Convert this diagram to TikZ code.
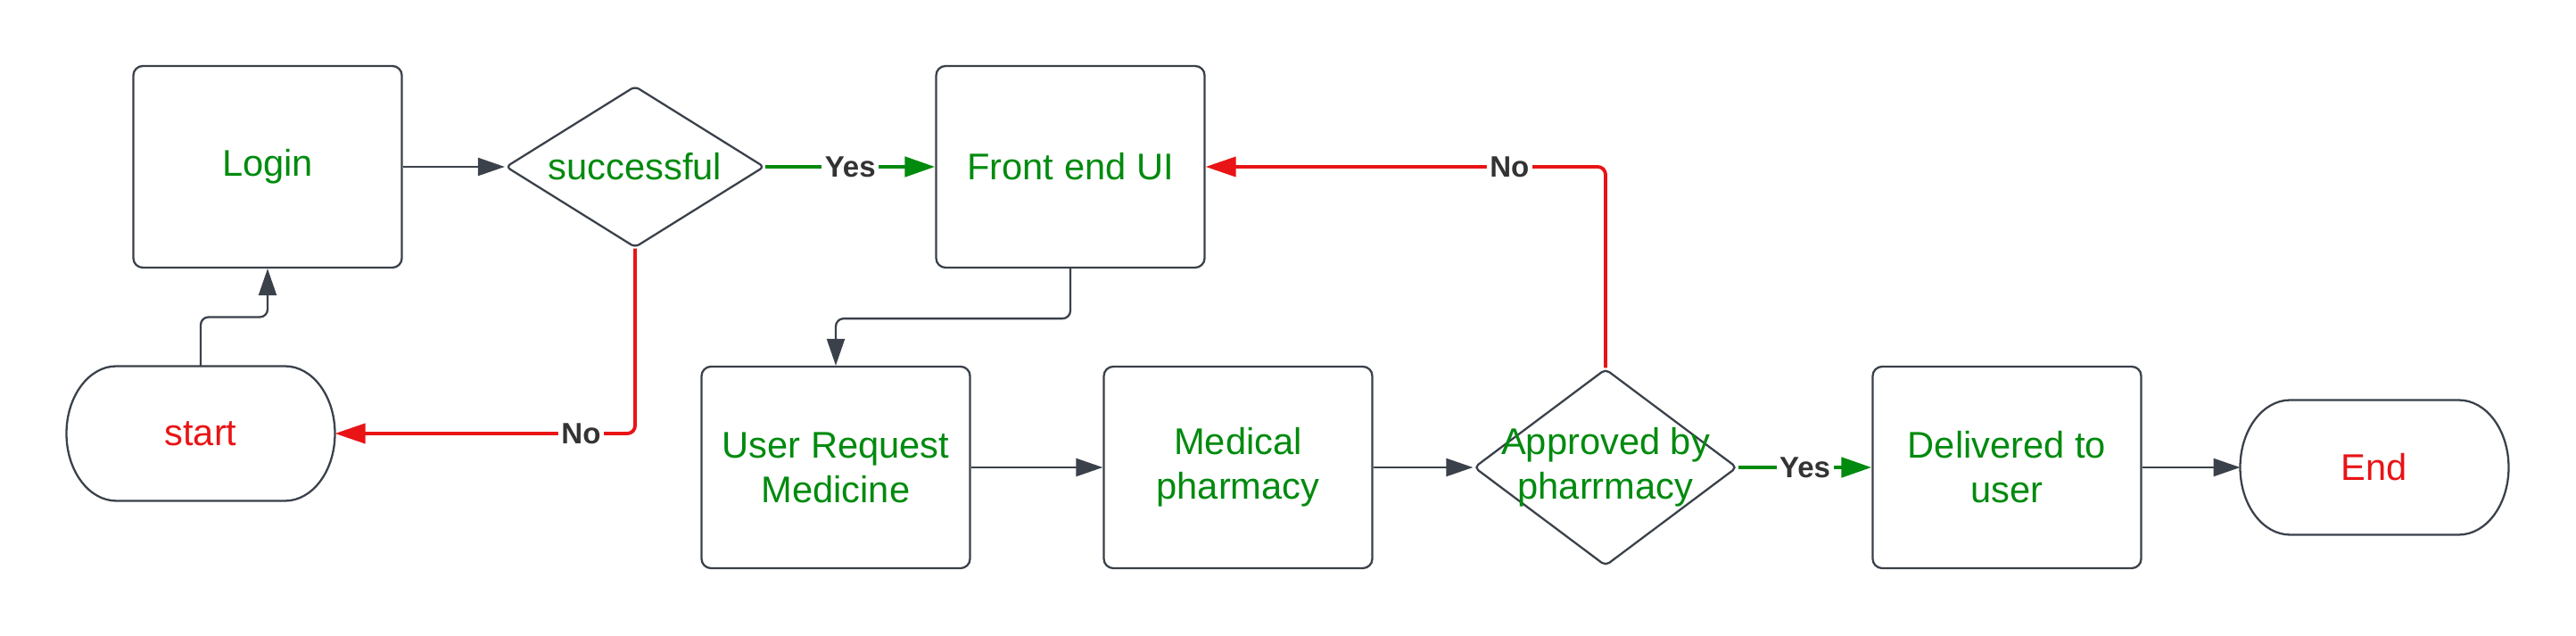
\documentclass[tikz,border=0pt]{standalone}
\usepackage{fontspec}
\setmainfont{Liberation Sans}
\usepackage{tikz}
\usepackage{xcolor}
\usetikzlibrary{positioning, shapes.geometric, arrows.meta, calc}

\definecolor{linegray}{HTML}{3A414A}
\definecolor{okgreen}{HTML}{008A0E}
\definecolor{nored}{HTML}{E81416}
\definecolor{labelgray}{HTML}{333333}

\begin{document}
\begin{tikzpicture}[
  >={Triangle[length=3mm, width=2mm]},
  every node/.style={font=\fontsize{11.85}{14.2}\selectfont},
  flowbox/.style={draw=linegray, line width=0.65pt, rounded corners=3pt,
               minimum width=3.01cm, minimum height=2.26cm, align=center,
               text=okgreen, inner sep=2pt},
  decision/.style={diamond, draw=linegray, line width=0.65pt,
               rounded corners=1.5pt, inner sep=0pt},
  terminal/.style={minimum width=3.01cm, minimum height=1.51cm,
               outer sep=0pt, text=nored},
  flow/.style={->, draw=linegray, line width=0.65pt, rounded corners=2.5pt},
  yesflow/.style={-{Triangle[length=3.4mm, width=2.2mm]}, draw=okgreen,
               line width=1.4pt},
  noflow/.style={-{Triangle[length=3.4mm, width=2.2mm]}, draw=nored,
               line width=1.1pt, rounded corners=2.5pt},
  answer/.style={font=\fontsize{9.4}{11}\selectfont\bfseries,
               text=labelgray, fill=white, inner sep=1pt}
]
\useasboundingbox (0,0) rectangle (28.88,7.13);

% ---- Top row ----
\node[flowbox] (login) at (3.00, 5.26) {Login};

\node[decision, minimum width=2.90cm, minimum height=1.81cm,
      label={[text=okgreen]center:successful}] (check) at (7.12, 5.26) {};

\node[flowbox] (frontend) at (12.00, 5.26) {Front end UI};

% ---- Bottom row ----
\node[terminal] (start) at (2.25, 2.27) {start};

\node[flowbox] (request) at (9.37, 1.89) {User Request\\Medicine};

\node[flowbox] (pharmacy) at (13.88, 1.89) {Medical\\pharmacy};

\node[decision, minimum width=2.95cm, minimum height=2.21cm,
      label={[text=okgreen, align=center]center:{Approved by\\pharrmacy}}]
  (approve) at (18.00, 1.89) {};

\node[flowbox] (deliver) at (22.50, 1.89) {Delivered to\\user};

\node[terminal] (finish) at (26.62, 1.89) {End};

% ---- Terminal outlines ----
\draw[linegray, line width=0.65pt]
  ([xshift=0.56cm]start.north west) -- ([xshift=-0.56cm]start.north east)
  arc[start angle=90, end angle=-90, x radius=0.56cm, y radius=0.755cm]
  -- ([xshift=0.56cm]start.south west)
  arc[start angle=270, end angle=90, x radius=0.56cm, y radius=0.755cm] -- cycle;
\draw[linegray, line width=0.65pt]
  ([xshift=0.56cm]finish.north west) -- ([xshift=-0.56cm]finish.north east)
  arc[start angle=90, end angle=-90, x radius=0.56cm, y radius=0.755cm]
  -- ([xshift=0.56cm]finish.south west)
  arc[start angle=270, end angle=90, x radius=0.56cm, y radius=0.755cm] -- cycle;

% ---- Arrows ----
\draw[flow] (start.north) -- ++(0, 0.55) -| (login.south);
\draw[flow] (login.east) -- (check.west);
\draw[yesflow] (check.east) -- node[answer] {Yes} (frontend.west);
\draw[noflow] (check.south) |- node[answer, pos=0.59] {No} (start.east);
\draw[flow] (frontend.south) -- ++(0, -0.56) -| (request.north);
\draw[flow] (request.east) -- (pharmacy.west);
\draw[flow] (pharmacy.east) -- (approve.west);
\draw[yesflow] (approve.east) -- node[answer] {Yes} (deliver.west);
\draw[noflow] (approve.north) |- node[answer, pos=0.62] {No} (frontend.east);
\draw[flow] (deliver.east) -- (finish.west);

\end{tikzpicture}
\end{document}
